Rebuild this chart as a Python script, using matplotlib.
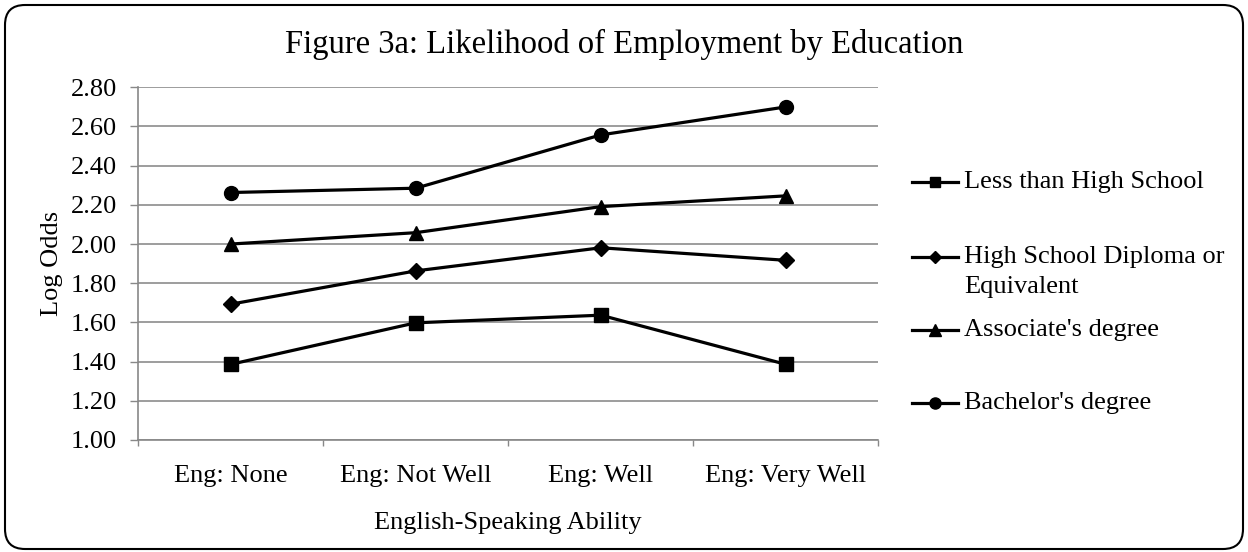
import matplotlib
matplotlib.use("Agg")
import matplotlib.pyplot as plt
from matplotlib.lines import Line2D
from matplotlib.patches import FancyBboxPatch
from matplotlib.transforms import IdentityTransform

categories = ["Eng: None", "Eng: Not Well", "Eng: Well", "Eng: Very Well"]
less_than_hs = [1.386, 1.598, 1.637, 1.386]
hs_diploma = [1.693, 1.863, 1.981, 1.917]
associates = [2.000, 2.058, 2.191, 2.246]
bachelors = [2.263, 2.285, 2.557, 2.700]
series_labels = ["Less than High School", "High School Diploma or\nEquivalent",
                 "Associate's degree", "Bachelor's degree"]
yticks = [1.00, 1.20, 1.40, 1.60, 1.80, 2.00, 2.20, 2.40, 2.60, 2.80]

plt.rcParams['font.family'] = ['Liberation Serif', 'DejaVu Serif']

W, H = 1248, 552
FS = 19
fig = plt.figure(figsize=(W / 100, H / 100), dpi=100)
ax = fig.add_axes([138 / W, 1 - 440 / H, (878.5 - 138) / W, (440 - 87.3) / H])

series = [less_than_hs, hs_diploma, associates, bachelors]
markers = ['s', 'D', '^', 'o']
msizes = [9.5, 8, 10, 10]
x = list(range(len(categories)))
for vals, m, ms, lab in zip(series, markers, msizes, series_labels):
    ax.plot(x, vals, color='black', lw=2.3, marker=m, ms=ms, label=lab, zorder=3)

ax.set_xlim(-0.5, 3.5)
ax.set_ylim(1.0, 2.8)
ax.set_yticks(yticks)
ax.set_yticklabels([f"{v:.2f}" for v in yticks])
ax.set_xticks(x)
ax.set_xticklabels(categories)
ax.set_xticks([-0.5, 0.5, 1.5, 2.5, 3.5], minor=True)
ax.tick_params(axis='x', which='major', length=0, pad=18, labelsize=FS)
ax.tick_params(axis='x', which='minor', length=4, color='#888888', width=1)
ax.tick_params(axis='y', length=6, color='#888888', width=1, pad=9, labelsize=FS)
ax.grid(axis='y', color='#8c8c8c', lw=1.2)
ax.set_axisbelow(True)
for s in ['top', 'right']:
    ax.spines[s].set_visible(False)
for s in ['left', 'bottom']:
    ax.spines[s].set_color('#888888')
    ax.spines[s].set_linewidth(1.2)

ax.set_ylabel("Log Odds", fontsize=FS, labelpad=6)
ax.set_xlabel("English-Speaking Ability", fontsize=FS, labelpad=18)
fig.text(0.5, 1 - 44 / H, "Figure 3a: Likelihood of Employment by Education",
         ha='center', va='center', fontsize=23.5)

# legend (manual layout, Excel style)
rows_y = [182, 257, 330, 403]
for (m, ms, lab, ry) in zip(markers, msizes, series_labels, rows_y):
    yy = 1 - ry / H
    line = Line2D([912 / W, 958 / W], [yy, yy], transform=fig.transFigure,
                  color='black', lw=2.3)
    mk = Line2D([935 / W], [yy], transform=fig.transFigure, color='black',
                marker=m, ms=ms * 0.8, ls='none')
    fig.add_artist(line)
    fig.add_artist(mk)
    for k, part in enumerate(lab.split('\n')):
        fig.text(964 / W, 1 - (ry + 30 * k) / H, part, ha='left',
                 va='center', fontsize=FS)

border = FancyBboxPatch((5, 3), W - 10, H - 8,
                        boxstyle="round,pad=0,rounding_size=20",
                        transform=IdentityTransform(), fill=False,
                        edgecolor='black', lw=1.5)
fig.add_artist(border)

fig.savefig("out.png", dpi=100)
